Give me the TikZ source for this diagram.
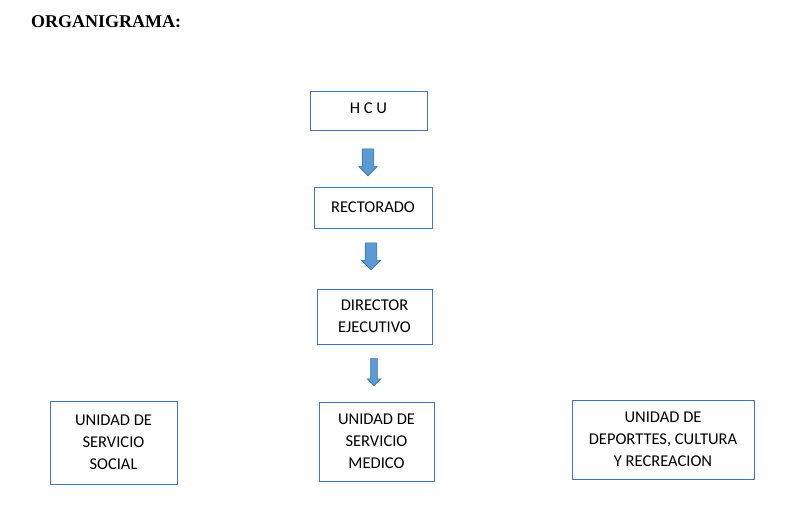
\documentclass[tikz,border=0pt]{standalone}
\usepackage{fontspec}
\setmainfont{Carlito}
\newfontfamily\titlefont{Liberation Serif}
\usetikzlibrary{positioning, shapes.arrows}
\definecolor{boxblue}{HTML}{4472C4}
\definecolor{arrowfill}{HTML}{5B9BD5}
\definecolor{arrowline}{HTML}{41719C}
\tikzset{%
   % org chart box: thin blue frame, centred text
   unit/.style={
      draw=boxblue,
      line width=0.8pt,
      align=center,
      inner sep=0pt,
      font=\fontsize{16.5}{22}\selectfont
   },
   % block arrow pointing down
   downarrow/.style={
      single arrow,
      shape border rotate=270,
      draw=arrowline,
      fill=arrowfill,
      line width=0.6pt,
      inner sep=5.5pt,
      single arrow head extend=3.5pt
   },
}

\begin{document}
\begin{tikzpicture}[x=1pt, y=-1pt]
   \useasboundingbox (0,0) rectangle (800,515);
   \node[anchor=west, inner sep=0pt, font=\titlefont\bfseries\fontsize{18}{20}\selectfont]
      (title) at (31,22) {ORGANIGRAMA:};
   \node[unit, minimum width=117pt, minimum height=39pt, text depth=5pt] (hcu) at (368.5,110.5) {H C U};
   \node[unit, minimum width=118pt, minimum height=41pt] (rect) at (373,207.5) {RECTORADO};
   \node[unit, minimum width=115pt, minimum height=55pt] (dir) at (374.5,316.5)
      {DIRECTOR\\EJECUTIVO};
   \node[unit, minimum width=127pt, minimum height=83pt] (soc) at (113.5,442.5)
      {UNIDAD DE\\SERVICIO\\SOCIAL};
   \node[unit, minimum width=115pt, minimum height=79pt] (med) at (376.5,441.5)
      {UNIDAD DE\\SERVICIO\\MEDICO};
   \node[unit, minimum width=182pt, minimum height=79pt] (dep) at (663,439.5)
      {UNIDAD DE\\DEPORTTES, CULTURA\\Y RECREACION};
   \node[downarrow, minimum height=27pt] (a1) at (368,159.5) {};
   \node[downarrow, minimum height=27pt, single arrow head extend=4pt] (a2) at (371,253.5) {};
   \node[downarrow, minimum height=27pt, inner sep=3pt,
      single arrow head extend=3.5pt] (a3) at (374,370.5) {};
\end{tikzpicture}
\end{document}
